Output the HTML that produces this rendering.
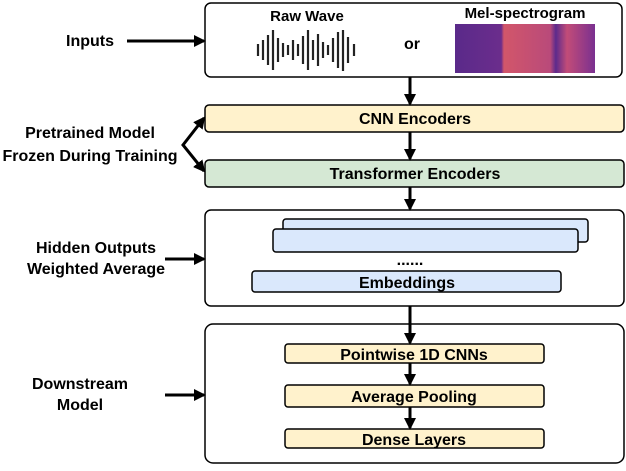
<!DOCTYPE html><html><head><style>body{margin:0;background:#fff}</style></head><body>
<svg width="626" height="466" xmlns="http://www.w3.org/2000/svg" font-family="Liberation Sans, sans-serif" font-weight="bold" font-size="16">
<defs>
<marker id="a" markerWidth="12" markerHeight="12" refX="10" refY="6" orient="auto-start-reverse" markerUnits="userSpaceOnUse"><path d="M0,0 L12,6 L0,12 z" fill="#000"/></marker>
<linearGradient id="sp" x1="0" x2="1"><stop offset="0" stop-color="#5a2a8a"/><stop offset="0.33" stop-color="#6b2d8c"/><stop offset="0.35" stop-color="#d2566a"/><stop offset="0.68" stop-color="#b94a7a"/><stop offset="0.72" stop-color="#5c2a8c"/><stop offset="0.8" stop-color="#c24c78"/><stop offset="1" stop-color="#7a3090"/></linearGradient>
</defs>
<rect x="205" y="3" width="417" height="74" rx="6" fill="#fff" stroke="#000" stroke-width="1.5"/>
<text x="307" y="21" text-anchor="middle" font-size="15">Raw Wave</text>
<text x="412" y="49" text-anchor="middle">or</text>
<text x="525" y="18" text-anchor="middle" font-size="15">Mel-spectrogram</text>
<rect x="455" y="24" width="140" height="49" fill="url(#sp)"/>
<g stroke="#222" stroke-width="2.2">
<line x1="258" y1="44" x2="258" y2="56"/><line x1="263" y1="40" x2="263" y2="60"/><line x1="268" y1="35" x2="268" y2="65"/><line x1="273" y1="30" x2="273" y2="70"/><line x1="278" y1="38" x2="278" y2="62"/><line x1="283" y1="43" x2="283" y2="57"/><line x1="288" y1="45" x2="288" y2="55"/><line x1="293" y1="40" x2="293" y2="60"/><line x1="298" y1="44" x2="298" y2="56"/><line x1="303" y1="36" x2="303" y2="64"/><line x1="308" y1="30" x2="308" y2="70"/><line x1="313" y1="40" x2="313" y2="60"/><line x1="318" y1="34" x2="318" y2="66"/><line x1="323" y1="42" x2="323" y2="58"/><line x1="328" y1="45" x2="328" y2="55"/><line x1="333" y1="38" x2="333" y2="62"/><line x1="338" y1="32" x2="338" y2="68"/><line x1="343" y1="30" x2="343" y2="71"/><line x1="348" y1="37" x2="348" y2="63"/><line x1="354" y1="44" x2="354" y2="56"/>
</g>
<rect x="205" y="105" width="419" height="27" rx="4" fill="#fff2cc" stroke="#000" stroke-width="1.5"/>
<text x="415" y="124" text-anchor="middle">CNN Encoders</text>
<rect x="205" y="160" width="419" height="27" rx="4" fill="#d5e8d4" stroke="#000" stroke-width="1.5"/>
<text x="415" y="179" text-anchor="middle">Transformer Encoders</text>
<rect x="205" y="210" width="419" height="96" rx="6" fill="#fff" stroke="#000" stroke-width="1.5"/>
<rect x="283" y="219" width="305" height="23" rx="3" fill="#dae8fc" stroke="#000" stroke-width="1.5"/>
<rect x="273" y="229" width="305" height="23" rx="3" fill="#dae8fc" stroke="#000" stroke-width="1.5"/>
<text x="410" y="265" text-anchor="middle">......</text>
<rect x="252" y="271" width="309" height="21" rx="3" fill="#dae8fc" stroke="#000" stroke-width="1.5"/>
<text x="407" y="288" text-anchor="middle">Embeddings</text>
<rect x="205" y="324" width="419" height="139" rx="8" fill="#fff" stroke="#000" stroke-width="1.5"/>
<rect x="285" y="344" width="259" height="19" rx="3" fill="#fff2cc" stroke="#000" stroke-width="1.5"/>
<text x="414" y="360" text-anchor="middle">Pointwise 1D CNNs</text>
<rect x="285" y="385" width="259" height="22" rx="3" fill="#fff2cc" stroke="#000" stroke-width="1.5"/>
<text x="414" y="402" text-anchor="middle">Average Pooling</text>
<rect x="285" y="429" width="259" height="19" rx="3" fill="#fff2cc" stroke="#000" stroke-width="1.5"/>
<text x="414" y="445" text-anchor="middle">Dense Layers</text>
<g stroke="#000" stroke-width="3" fill="none">
<line x1="410" y1="77" x2="410" y2="104" marker-end="url(#a)"/>
<line x1="410" y1="132" x2="410" y2="159" marker-end="url(#a)"/>
<line x1="410" y1="187" x2="410" y2="209" marker-end="url(#a)"/>
<line x1="410" y1="306" x2="410" y2="343" marker-end="url(#a)"/>
<line x1="410" y1="363" x2="410" y2="384" marker-end="url(#a)"/>
<line x1="410" y1="407" x2="410" y2="428" marker-end="url(#a)"/>
<line x1="127" y1="41" x2="204" y2="41" marker-end="url(#a)"/>
<line x1="165" y1="259" x2="204" y2="259" marker-end="url(#a)"/>
<line x1="165" y1="395" x2="204" y2="395" marker-end="url(#a)"/>
<polyline points="204,118 183,145 204,171" marker-start="url(#a)" marker-end="url(#a)"/>
</g>
<text x="90" y="46" text-anchor="middle">Inputs</text>
<text x="90" y="138" text-anchor="middle">Pretrained Model</text>
<text x="90" y="161" text-anchor="middle">Frozen During Training</text>
<text x="96" y="253" text-anchor="middle">Hidden Outputs</text>
<text x="96" y="274" text-anchor="middle">Weighted Average</text>
<text x="80" y="389" text-anchor="middle">Downstream</text>
<text x="80" y="410" text-anchor="middle">Model</text>
</svg>
</body></html>
